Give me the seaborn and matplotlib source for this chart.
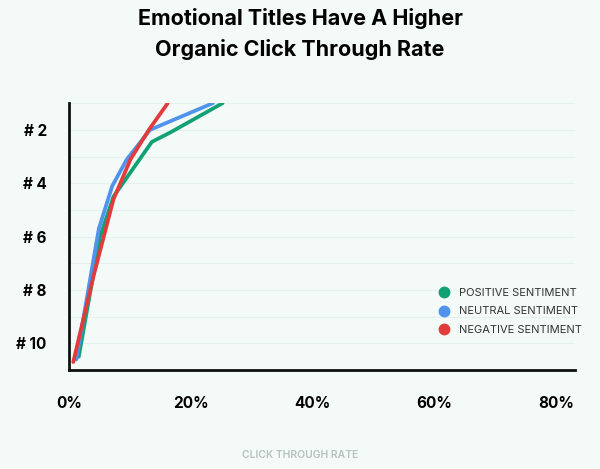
import matplotlib
matplotlib.use('Agg')
import matplotlib.pyplot as plt
import seaborn as sns
import pandas as pd

# Valores (CTR em %, posição no ranking)
positive_ctr = [1.6, 5.1, 7.3, 13.6, 16.6, 25.2]
positive_pos = [10.5, 6.0, 4.5, 2.45, 2.1, 1.0]
neutral_ctr = [1.2, 4.9, 7.1, 9.5, 13.3, 23.6]
neutral_pos = [10.6, 5.7, 4.1, 3.1, 2.0, 1.0]
negative_ctr = [0.7, 4.0, 7.3, 10.1, 13.1, 16.2]
negative_pos = [10.7, 7.5, 4.6, 3.1, 2.0, 1.0]

series_names = ['POSITIVE SENTIMENT', 'NEUTRAL SENTIMENT', 'NEGATIVE SENTIMENT']
cores = ['#12a075', '#4f93ec', '#e23b3b']

x_ticks = [0, 20, 40, 60, 80]
x_labels = ['0%', '20%', '40%', '60%', '80%']
y_ticks = [2, 4, 6, 8, 10]
y_labels = ['# 2', '# 4', '# 6', '# 8', '# 10']

linhas = []
for nome, xs, ys in zip(series_names,
                        [positive_ctr, neutral_ctr, negative_ctr],
                        [positive_pos, neutral_pos, negative_pos]):
    for i, (x, y) in enumerate(zip(xs, ys)):
        linhas.append({'serie': nome, 'ctr': x, 'pos': y, 'ordem': i})
df = pd.DataFrame(linhas)

BG = '#f3faf8'
sns.set_style('white')
plt.rcParams['font.family'] = ['Inter', 'DejaVu Sans']

fig = plt.figure(figsize=(6, 4.69), dpi=100, facecolor=BG)
ax = fig.add_axes([0.115, 0.211, 0.843, 0.569])
ax.set_facecolor(BG)

for y in range(1, 12):
    ax.axhline(y, color='#e4f1ee', lw=0.8, zorder=0)

sns.lineplot(data=df, x='ctr', y='pos', hue='serie', palette=cores,
             sort=False, estimator=None, units='serie', lw=2.7, ax=ax,
             legend=False, zorder=3)

ax.set_xlim(0, 83)
ax.set_ylim(11, 1)
ax.set_xticks(x_ticks)
ax.set_xticklabels(x_labels, fontsize=11, fontweight='bold', color='black')
ax.set_yticks(y_ticks)
ax.set_yticklabels(y_labels, fontsize=11, fontweight='bold', color='black')
ax.tick_params(axis='x', length=0, pad=19)
ax.tick_params(axis='y', length=0, pad=16)
ax.set_xlabel('')
ax.set_ylabel('')
fig.text(0.5, 0.030, 'CLICK THROUGH RATE', fontsize=7.5, color='#b8c2c0',
         fontweight='semibold', ha='center', va='center')

for s in ['top', 'right']:
    ax.spines[s].set_visible(False)
for s in ['left', 'bottom']:
    ax.spines[s].set_color('#111111')
    ax.spines[s].set_linewidth(2)

fig.suptitle('Emotional Titles Have A Higher\nOrganic Click Through Rate',
             fontsize=15.5, fontweight='bold', y=0.982, linespacing=1.55,
             color='black')

handles = [plt.Line2D([], [], marker='o', ls='', color=c, markersize=7.5)
           for c in cores]
fig.legend(handles, series_names, loc='upper left',
           bbox_to_anchor=(0.705, 0.407), frameon=False,
           fontsize=8, handletextpad=0.35, labelspacing=0.75,
           labelcolor='#333333')

fig.savefig('out.png', dpi=100, facecolor=BG)
